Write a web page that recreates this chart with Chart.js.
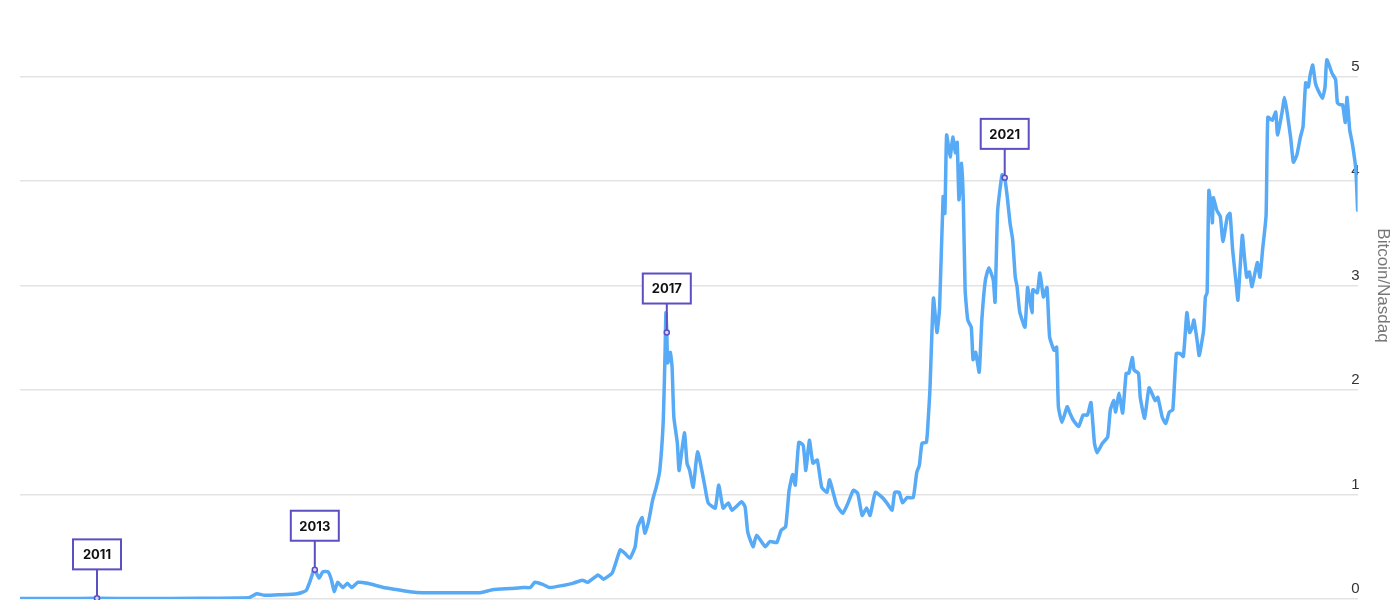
<!DOCTYPE html>
<html lang="en">
  <head>
    <meta charset="UTF-8" />
    <title>Bitcoin/Nasdaq</title>
    <script src="https://cdn.jsdelivr.net/npm/chart.js@4.4.1/dist/chart.umd.min.js"></script>
    <style>
      body {
        margin: 0;
        background: #ffffff;
      }
      #frame {
        width: 1400px;
        height: 600px;
        overflow: hidden;
        position: relative;
      }
      /* the plot runs a little above the visible top edge */
      #chart-container {
        position: absolute;
        left: 0;
        top: -28px;
        width: 1400px;
        height: 628px;
      }
    </style>
  </head>
  <body>
    <div id="frame">
      <div id="chart-container">
        <canvas id="ratioChart"></canvas>
      </div>
    </div>

    <script>
      // decimal years (x) and Bitcoin/Nasdaq ratio (y)
      const years = [
        2010.6, 2011.05, 2011.475, 2011.96, 2012.65, 2013.1, 2013.21, 2013.29, 2013.38, 2013.55,
        2013.75, 2013.85, 2013.9, 2013.94, 2013.95, 2014.0, 2014.04, 2014.1, 2014.14, 2014.17,
        2014.21, 2014.27, 2014.32, 2014.37, 2014.44, 2014.55, 2014.73, 2014.88, 2015.03, 2015.18,
        2015.41, 2015.63, 2015.83, 2015.98, 2016.17, 2016.32, 2016.4, 2016.45, 2016.54, 2016.62,
        2016.77, 2016.88, 2016.99, 2017.05, 2017.17, 2017.23, 2017.33, 2017.42, 2017.47, 2017.53,
        2017.59, 2017.62, 2017.67, 2017.7, 2017.74, 2017.79, 2017.83, 2017.87, 2017.91, 2017.93,
        2017.94, 2017.95, 2017.96, 2017.99, 2018.01, 2018.03, 2018.07, 2018.09, 2018.15, 2018.18,
        2018.21, 2018.25, 2018.3, 2018.38, 2018.42, 2018.5, 2018.54, 2018.59, 2018.65, 2018.69,
        2018.8, 2018.84, 2018.87, 2018.93, 2018.97, 2019.07, 2019.12, 2019.2, 2019.25, 2019.3,
        2019.34, 2019.38, 2019.41, 2019.45, 2019.5, 2019.53, 2019.57, 2019.61, 2019.66, 2019.71,
        2019.77, 2019.8, 2019.88, 2019.95, 2020.01, 2020.07, 2020.12, 2020.17, 2020.22, 2020.26,
        2020.32, 2020.4, 2020.45, 2020.51, 2020.54, 2020.59, 2020.63, 2020.68, 2020.75, 2020.79,
        2020.82, 2020.85, 2020.9, 2020.92, 2020.94, 2020.98, 2021.02, 2021.05, 2021.09, 2021.11,
        2021.13, 2021.17, 2021.2, 2021.23, 2021.25, 2021.27, 2021.3, 2021.32, 2021.34, 2021.37,
        2021.41, 2021.43, 2021.46, 2021.5, 2021.53, 2021.57, 2021.61, 2021.66, 2021.68, 2021.71,
        2021.76, 2021.79, 2021.82, 2021.85, 2021.88, 2021.91, 2021.93, 2021.96, 2022.02, 2022.05,
        2022.1, 2022.11, 2022.16, 2022.19, 2022.23, 2022.27, 2022.3, 2022.35, 2022.38, 2022.4,
        2022.44, 2022.5, 2022.53, 2022.57, 2022.63, 2022.68, 2022.73, 2022.77, 2022.81, 2022.84,
        2022.9, 2022.96, 2022.99, 2023.03, 2023.05, 2023.09, 2023.13, 2023.17, 2023.2, 2023.24,
        2023.26, 2023.31, 2023.33, 2023.38, 2023.43, 2023.5, 2023.53, 2023.58, 2023.62, 2023.66,
        2023.7, 2023.74, 2023.78, 2023.82, 2023.86, 2023.89, 2023.92, 2023.94, 2023.98, 2024.0,
        2024.05, 2024.07, 2024.09, 2024.11, 2024.14, 2024.15, 2024.16, 2024.2, 2024.24, 2024.27,
        2024.32, 2024.35, 2024.38, 2024.42, 2024.44, 2024.49, 2024.51, 2024.54, 2024.57, 2024.6,
        2024.66, 2024.69, 2024.72, 2024.76, 2024.78, 2024.83, 2024.87, 2024.89, 2024.94, 2024.97,
        2025.0, 2025.04, 2025.07, 2025.11, 2025.15, 2025.18, 2025.21, 2025.24, 2025.26, 2025.29,
        2025.32, 2025.35, 2025.4, 2025.43, 2025.45, 2025.51, 2025.55, 2025.57, 2025.6, 2025.63,
        2025.66, 2025.68, 2025.71, 2025.74, 2025.78, 2025.8,
      ];

      const ratio = [
        0.005, 0.005, 0.006, 0.005, 0.007, 0.01, 0.015, 0.05, 0.035, 0.04,
        0.05, 0.08, 0.18, 0.28, 0.28, 0.2, 0.26, 0.26, 0.18, 0.07,
        0.16, 0.11, 0.15, 0.11, 0.16, 0.15, 0.11, 0.09, 0.07, 0.06,
        0.06, 0.06, 0.06, 0.09, 0.1, 0.11, 0.11, 0.16, 0.14, 0.11,
        0.13, 0.15, 0.18, 0.16, 0.23, 0.19, 0.25, 0.47, 0.44, 0.39,
        0.5, 0.69, 0.78, 0.63, 0.73, 0.95, 1.07, 1.23, 1.71, 2.35,
        2.74, 2.55, 2.26, 2.36, 2.22, 1.74, 1.49, 1.23, 1.59, 1.3,
        1.23, 1.07, 1.41, 1.09, 0.92, 0.87, 1.09, 0.87, 0.92, 0.85,
        0.93, 0.88, 0.64, 0.5, 0.61, 0.5, 0.55, 0.54, 0.66, 0.69,
        1.04, 1.19, 1.09, 1.5, 1.47, 1.23, 1.52, 1.3, 1.33, 1.07,
        1.02, 1.14, 0.9, 0.82, 0.92, 1.04, 1.01, 0.8, 0.87, 0.8,
        1.02, 0.97, 0.92, 0.85, 1.02, 1.02, 0.92, 0.97, 0.97, 1.21,
        1.28, 1.49, 1.5, 1.71, 2.0, 2.88, 2.55, 2.79, 3.85, 3.69,
        4.44, 4.23, 4.42, 4.27, 4.37, 3.82, 4.17, 3.79, 2.96, 2.67,
        2.6, 2.29, 2.36, 2.17, 2.67, 3.05, 3.17, 3.05, 2.84, 3.72,
        4.06, 4.03, 3.84, 3.6, 3.44, 3.08, 2.99, 2.75, 2.6, 2.98,
        2.74, 2.96, 2.93, 3.12, 2.89, 2.98, 2.51, 2.38, 2.41, 1.84,
        1.69, 1.84, 1.78, 1.71, 1.65, 1.76, 1.76, 1.88, 1.49, 1.4,
        1.49, 1.55, 1.81, 1.9, 1.79, 1.97, 1.78, 2.16, 2.16, 2.31,
        2.19, 2.16, 1.93, 1.73, 2.02, 1.9, 1.93, 1.74, 1.68, 1.79,
        1.81, 2.35, 2.35, 2.32, 2.74, 2.55, 2.6, 2.67, 2.45, 2.33,
        2.57, 2.89, 2.93, 3.91, 3.72, 3.6, 3.84, 3.72, 3.66, 3.42,
        3.66, 3.69, 3.34, 3.02, 2.86, 3.48, 3.31, 3.08, 3.13, 2.99,
        3.22, 3.08, 3.34, 3.67, 4.61, 4.58, 4.66, 4.44, 4.65, 4.8,
        4.65, 4.41, 4.18, 4.25, 4.42, 4.52, 4.94, 4.9, 5.01, 5.11,
        4.94, 4.87, 4.79, 4.9, 5.16, 5.03, 4.97, 4.75, 4.73, 4.73,
        4.56, 4.8, 4.49, 4.36, 4.11, 3.72,
      ];

      // labelled markers
      const markerLabels = ["2011", "2013", "2017", "2021"];
      const markerYears = [2011.475, 2013.95, 2017.95, 2021.79];

      const yTicks = [0, 1, 2, 3, 4, 5];

      const lineColor = "#56aaf6";
      const markColor = "#5b4fc2";

      // draws the year boxes, their stems and the ring on the line
      const markerPlugin = {
        id: "yearMarkers",
        afterDatasetsDraw(chart) {
          const ctx = chart.ctx;
          const xs = chart.scales.x;
          const ys = chart.scales.y;
          markerYears.forEach((yr, i) => {
            // nearest data point to that year
            let best = 0;
            years.forEach((v, j) => {
              if (Math.abs(v - yr) < Math.abs(years[best] - yr)) best = j;
            });
            const px = xs.getPixelForValue(years[best]);
            const py = ys.getPixelForValue(ratio[best]);
            const bw = 48;
            const bh = 30;
            const bottom = py - 29;

            ctx.save();
            ctx.strokeStyle = markColor;
            ctx.lineWidth = 2;
            ctx.beginPath();
            ctx.moveTo(px, bottom);
            ctx.lineTo(px, py);
            ctx.stroke();

            ctx.fillStyle = "#ffffff";
            ctx.fillRect(px - bw / 2, bottom - bh, bw, bh);
            ctx.strokeRect(px - bw / 2, bottom - bh, bw, bh);

            ctx.fillStyle = "#111111";
            ctx.font = "bold 13px Inter, 'Liberation Sans', sans-serif";
            ctx.textAlign = "center";
            ctx.textBaseline = "middle";
            ctx.fillText(markerLabels[i], px, bottom - bh / 2 + 1);

            ctx.beginPath();
            ctx.arc(px, py, 2.5, 0, Math.PI * 2);
            ctx.fillStyle = "#d9d4ff";
            ctx.fill();
            ctx.lineWidth = 1.5;
            ctx.stroke();
            ctx.restore();
          });
        },
      };

      const ctx = document.getElementById("ratioChart").getContext("2d");
      new Chart(ctx, {
        type: "line",
        data: {
          datasets: [
            {
              label: "Bitcoin/Nasdaq",
              data: years.map((x, i) => ({ x: x, y: ratio[i] })),
              borderColor: lineColor,
              borderWidth: 3.5,
              borderJoinStyle: "round",
              borderCapStyle: "round",
              pointRadius: 0,
              tension: 0.15,
              fill: false,
            },
          ],
        },
        options: {
          responsive: true,
          maintainAspectRatio: false,
          animation: false,
          layout: {
            padding: { left: 20, right: 3, top: 0, bottom: 1 },
          },
          plugins: {
            legend: { display: false },
            tooltip: { enabled: false },
          },
          scales: {
            x: {
              type: "linear",
              min: years[0],
              max: years[years.length - 1],
              display: false,
            },
            y: {
              position: "right",
              min: 0,
              max: 6,
              afterBuildTicks: (scale) => {
                scale.ticks = yTicks.map((v) => ({ value: v }));
              },
              afterFit: (scale) => {
                // no extra room for the end labels
                scale.paddingTop = 0;
                scale.paddingBottom = 0;
              },
              grid: {
                color: "#e3e3e3",
                lineWidth: 1.5,
                drawTicks: false,
              },
              border: { display: false },
              ticks: {
                mirror: true,
                padding: 2,
                labelOffset: -10,
                color: "#333333",
                font: { family: "'Liberation Sans', Arial, sans-serif", size: 15 },
              },
              title: {
                display: true,
                text: "Bitcoin/Nasdaq",
                color: "#777777",
                font: { family: "'Liberation Sans', Arial, sans-serif", size: 17 },
                padding: { top: 4, bottom: 11 },
              },
            },
          },
        },
        plugins: [markerPlugin],
      });
    </script>
  </body>
</html>
